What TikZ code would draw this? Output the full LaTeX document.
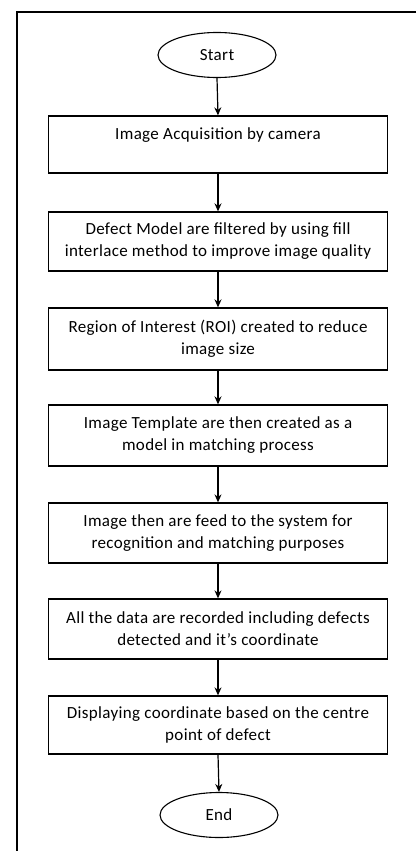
\documentclass[tikz,border=0pt]{standalone}
\usepackage{fontspec}
\setmainfont[LetterSpace=2]{Carlito}
\usetikzlibrary{arrows.meta,shapes.geometric}
\begin{document}
\begin{tikzpicture}[x=1pt,y=-1pt,
  every node/.style={font=\fontsize{17}{22}\selectfont},
  stepbox/.style={draw, line width=1.3pt, minimum width=339pt, minimum height=59pt,
    align=center, inner sep=0pt},
  terminal/.style={draw, ellipse, line width=1.1pt, minimum width=118pt, minimum height=45pt,
    inner sep=0pt},
  flow/.style={line width=1.2pt, -{Stealth[length=8pt,width=7pt]}}
]
\useasboundingbox (0,0) rectangle (416,851);
% open frame round the chart
\draw[line width=1.3pt] (416,12) -- (17,12) -- (17,851);

\node[terminal] (start) at (217,55) {Start};
\node[stepbox, minimum height=57pt] (s1) at (218,144.5) {Image Acquisition by camera\\\mbox{}};
\node[stepbox] (s2) at (218,241.5) {Defect Model are filtered by using fill\\interlace method to improve  image quality};
\node[stepbox, minimum height=62pt] (s3) at (218,339) {Region of Interest (ROI) created to reduce\\image size};
\node[stepbox, minimum height=61pt] (s4) at (218,435.5) {Image Template are then created as a\\model in matching process};
\node[stepbox, minimum height=60pt] (s5) at (218,533) {Image then are feed to the system for\\recognition and matching purposes};
\node[stepbox, minimum height=60pt] (s6) at (218,629) {All the data are recorded including defects\\detected and it's coordinate};
\node[stepbox, minimum height=58pt] (s7) at (218,725) {Displaying coordinate based on the centre\\point of defect};
\node[terminal] (end) at (219,815) {End};

\draw[flow] (start.south) -- (s1.north);
\draw[flow] (s1) -- (s2);
\draw[flow] (s2) -- (s3);
\draw[flow] (s3) -- (s4);
\draw[flow] (s4) -- (s5);
\draw[flow] (s5) -- (s6);
\draw[flow] (s6) -- (s7);
\draw[flow] (s7.south) -- (end.north);
\end{tikzpicture}
\end{document}
